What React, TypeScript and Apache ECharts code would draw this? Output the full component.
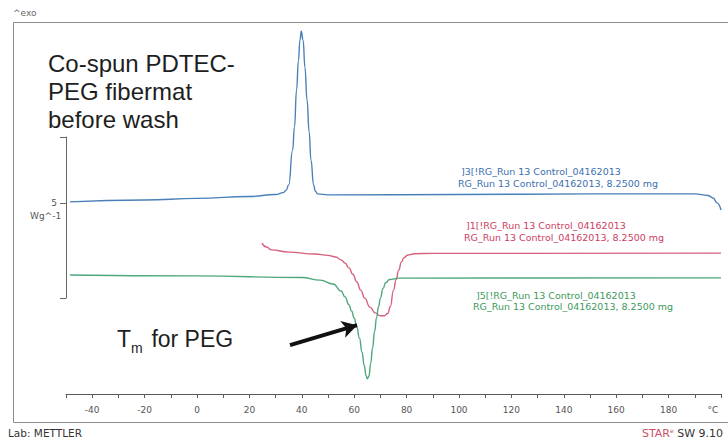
import React, { useEffect, useRef } from "react";
import * as echarts from "echarts";

// Temperature (°C) and heat flow (W/g, arbitrary offset)
const blueT = [-48.5, -20, 0, 20, 30, 33, 34, 35, 36.5, 37.2, 38, 38.7, 39.3, 39.8, 40.5, 41.2, 42, 42.8, 43.5, 44.5, 45.2, 46, 50, 100, 150, 190, 195, 197, 198.5, 200];
const blueW = [5.97, 6.03, 6.08, 6.14, 6.2, 6.26, 6.33, 6.5, 7.58, 8.3, 9.45, 10.35, 11.0, 11.28, 11.0, 10.15, 9.14, 8.15, 7.27, 6.5, 6.3, 6.22, 6.19, 6.2, 6.22, 6.22, 6.17, 6.09, 5.94, 5.72];

const redT = [24.8, 26.5, 28.5, 35, 45, 50, 53, 55, 56.5, 58, 59.5, 61, 62.5, 64, 66, 68, 70, 71.5, 72.8, 73.8, 75, 76, 77, 78, 79, 80.5, 83, 90, 120, 200];
const redW = [4.69, 4.57, 4.48, 4.41, 4.35, 4.31, 4.26, 4.17, 4.07, 3.92, 3.72, 3.48, 3.23, 2.98, 2.7, 2.52, 2.43, 2.43, 2.5, 2.72, 3.23, 3.55, 3.85, 4.1, 4.24, 4.32, 4.36, 4.37, 4.37, 4.38];

const greenT = [-48.5, 0, 40, 47, 52, 55, 56.5, 58, 59, 60, 61, 62, 63, 63.8, 64.5, 65, 65.6, 66.3, 67, 67.8, 68.5, 69.3, 70, 71, 72, 73.5, 77, 200];
const greenW = [3.7, 3.67, 3.62, 3.54, 3.42, 3.2, 3.02, 2.77, 2.58, 2.36, 2.08, 1.74, 1.3, 0.9, 0.58, 0.47, 0.55, 0.95, 1.43, 1.95, 2.36, 2.72, 2.98, 3.28, 3.46, 3.56, 3.6, 3.61];

// Arrow annotation (tail -> head), in data units
const arrowTail = [35.5, 1.52];
const arrowHead = [61.1, 2.14];

// Axis settings
const xMin = -50;
const xMax = 200;
const xStep = 10;
const xLabelStep = 20;
const yMin = 0;
const yMax = 11.5;
// scale bar (bracket) axis
const barMin = 0;
const barMax = 5;
const barTicks = [0, 2.95, 5];
const barLabelAt = [2.95];
const barLabel = "5";
const barUnit = "Wg^-1";

const blueLabel = ["]3[!RG_Run 13 Control_04162013", "RG_Run 13 Control_04162013, 8.2500 mg"];
const redLabel = ["]1[!RG_Run 13 Control_04162013", "RG_Run 13 Control_04162013, 8.2500 mg"];
const greenLabel = ["]5[!RG_Run 13 Control_04162013", "RG_Run 13 Control_04162013, 8.2500 mg"];
const titleLines = ["Co-spun PDTEC-", "PEG fibermat", "before wash"];

const zip = (a: number[], b: number[]) => a.map((v, i) => [v, b[i]]);

const SANS = '"Liberation Sans", Arial, sans-serif';
const SMALL = '"DejaVu Sans", Verdana, sans-serif';

export default function App() {
  const ref = useRef<HTMLDivElement>(null);
  useEffect(() => {
    document.body.style.margin = "0";
    const chart = echarts.init(ref.current!, null, { renderer: "svg" });
    const txt = (x: number, y: number, text: string, size: number, fill: string, family = SMALL, extra: any = {}) => ({
      type: "text",
      x,
      y,
      silent: true,
      style: { text, fontSize: size, fontFamily: family, fill, verticalAlign: "middle", align: "left", ...extra },
    });
    const lineSeries = (name: string, data: number[][], color: string, extra: any = {}) => ({
      name,
      type: "line",
      xAxisIndex: 0,
      yAxisIndex: 0,
      data,
      showSymbol: false,
      smooth: 0.5,
      smoothMonotone: "x",
      lineStyle: { color, width: 1.4 },
      itemStyle: { color },
      silent: true,
      ...extra,
    });
    chart.setOption({
      animation: false,
      backgroundColor: "#fff",
      grid: [
        { left: 66, right: 7, top: 24, bottom: 49 },
        { left: 66, top: 137, height: 161, width: 20 },
      ],
      xAxis: [
        {
          gridIndex: 0,
          type: "value",
          min: xMin,
          max: xMax,
          interval: xStep,
          splitLine: { show: false },
          axisLine: { show: true, onZero: false, lineStyle: { color: "#5a5a5a", width: 1 } },
          axisTick: { show: true, length: 4, lineStyle: { color: "#5a5a5a" } },
          axisLabel: {
            margin: 11,
            color: "#555",
            fontSize: 9,
            fontFamily: SMALL,
            showMinLabel: true,
            showMaxLabel: true,
            formatter: (v: number) => {
              if (v === xMax) return "{u|°C}";
              if (v === xMin) return "";
              return v % xLabelStep === 0 ? String(v) : "";
            },
            rich: { u: { color: "#555", fontSize: 9, fontFamily: SMALL, padding: [0, 16, 0, 0] } },
          },
        },
        { gridIndex: 1, type: "value", min: 0, max: 1, show: false },
      ],
      yAxis: [
        { gridIndex: 0, type: "value", min: yMin, max: yMax, show: false },
        {
          gridIndex: 1,
          type: "value",
          min: barMin,
          max: barMax,
          position: "left",
          splitLine: { show: false },
          axisLine: { show: true, lineStyle: { color: "#666", width: 1 } },
          axisTick: { show: true, length: 6, customValues: barTicks, lineStyle: { color: "#666" } },
          axisLabel: {
            show: true,
            customValues: barLabelAt,
            formatter: () => barLabel,
            color: "#555",
            fontSize: 9,
            fontFamily: SMALL,
            margin: 9,
          },
        },
      ],
      series: [
        lineSeries("blue", zip(blueT, blueW), "#4a80b8"),
        lineSeries("red", zip(redT, redW), "#d8607c"),
        lineSeries("green", zip(greenT, greenW), "#4ea77a", {
          markLine: {
            silent: true,
            symbol: ["none", "arrow"],
            symbolSize: [13, 15],
            label: { show: false },
            lineStyle: { color: "#111", width: 4, type: "solid" },
            data: [[{ coord: arrowTail }, { coord: arrowHead }]],
          },
        }),
      ],
      graphic: [
        {
          type: "rect",
          silent: true,
          shape: { x: 13.5, y: 22.5, width: 740, height: 400 },
          style: { fill: "none", stroke: "#8c8c8c", lineWidth: 1 },
        },
        txt(13, 13, "^exo", 9, "#666"),
        txt(30, 216, barUnit, 9, "#555"),
        txt(48, 63.6, titleLines[0], 24, "#1e1e1e", SANS),
        txt(48, 91.6, titleLines[1], 24, "#1e1e1e", SANS),
        txt(48, 119.6, titleLines[2], 24, "#1e1e1e", SANS),
        txt(117, 339, "T", 23, "#1e1e1e", SANS),
        txt(131, 348, "m", 14, "#1e1e1e", SANS),
        txt(145, 339, " for PEG", 23, "#1e1e1e", SANS),
        txt(461, 171.7, blueLabel[0], 9.5, "#3b6fb0"),
        txt(458, 183.3, blueLabel[1], 9.5, "#3b6fb0"),
        txt(466, 225, redLabel[0], 9.5, "#cc3d62"),
        txt(464, 237, redLabel[1], 9.5, "#cc3d62"),
        txt(476, 295, greenLabel[0], 9.5, "#3c9a5c"),
        txt(473, 306.7, greenLabel[1], 9.5, "#3c9a5c"),
        txt(8, 433, "Lab: METTLER", 10.5, "#333"),
        {
          type: "text",
          x: 642,
          y: 433,
          silent: true,
          style: {
            text: "{r|STAR}{e|e}{k| SW 9.10}",
            verticalAlign: "middle",
            rich: {
              r: { fontSize: 11, fontFamily: SMALL, fill: "#c9506a", color: "#c9506a" },
              e: { fontSize: 6, fontFamily: SMALL, fill: "#c9506a", color: "#c9506a", verticalAlign: "top" },
              k: { fontSize: 11, fontFamily: SMALL, fill: "#333", color: "#333" },
            },
          },
        },
      ],
    });
    return () => chart.dispose();
  }, []);
  return <div ref={ref} style={{ width: 728, height: 443, background: "#fff" }} />;
}
